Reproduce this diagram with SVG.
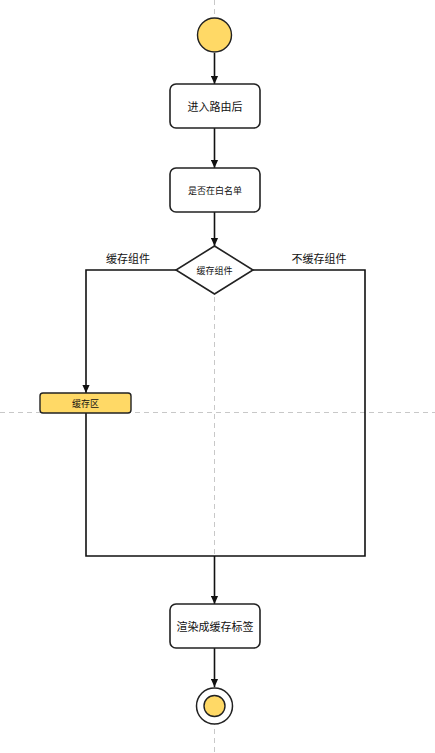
<svg xmlns="http://www.w3.org/2000/svg" width="435" height="753" viewBox="0 0 435 753">
<defs>
<marker id="arr" viewBox="0 0 10 10" refX="10" refY="5" markerWidth="8" markerHeight="8" markerUnits="userSpaceOnUse" orient="auto">
<path d="M0,0.5 L10,5 L0,9.5 Z" fill="#111"/>
</marker>
<style>
.guide{stroke:#c8c8c8;stroke-width:1;stroke-dasharray:5,4;fill:none}
.box{fill:#fff;stroke:#222;stroke-width:1.6}
.yel{fill:#FFD966;stroke:#222;stroke-width:1.4}
.ln{stroke:#111;stroke-width:1.6;fill:none}
.t{font-family:"Noto Sans CJK SC","Liberation Sans",sans-serif;fill:#111;text-anchor:middle;dominant-baseline:central}
</style>
</defs>
<rect width="435" height="753" fill="#fff"/>
<line class="guide" x1="214.5" y1="0" x2="214.5" y2="753"/>
<line class="guide" x1="0" y1="412.5" x2="435" y2="412.5"/>
<g id="connectors">
<line class="ln" x1="214.5" y1="53" x2="214.5" y2="84" marker-end="url(#arr)"/>
<line class="ln" x1="214.5" y1="128" x2="214.5" y2="168" marker-end="url(#arr)"/>
<line class="ln" x1="214.5" y1="212" x2="214.5" y2="246" marker-end="url(#arr)"/>
<polyline class="ln" points="176,270 86,270 86,393" marker-end="url(#arr)"/>
<polyline class="ln" points="253,270 365,270 365,556 86,556 86,413"/>
<line class="ln" x1="214.5" y1="556" x2="214.5" y2="604" marker-end="url(#arr)"/>
<line class="ln" x1="214.5" y1="648" x2="214.5" y2="687" marker-end="url(#arr)"/>
<text class="t" x="128" y="258" font-size="11">缓存组件</text>
<text class="t" x="319" y="258" font-size="11">不缓存组件</text>
</g>
<g id="start"><circle class="yel" cx="214.5" cy="35" r="17"/></g>
<g id="n1"><rect class="box" x="170" y="84" width="90" height="44" rx="6"/><text class="t" x="215" y="106" font-size="11">进入路由后</text></g>
<g id="n2"><rect class="box" x="170" y="168" width="90" height="44" rx="6"/><text class="t" x="215" y="190" font-size="9">是否在白名单</text></g>
<g id="decision"><polygon class="box" points="214.5,246 253,270 214.5,294 176,270"/><text class="t" x="214.5" y="270" font-size="9">缓存组件</text></g>
<g id="cache"><rect class="yel" x="40" y="393" width="91" height="20" rx="3"/><text class="t" x="85.5" y="403" font-size="9">缓存区</text></g>
<g id="n3"><rect class="box" x="170" y="604" width="90" height="44" rx="6"/><text class="t" x="215" y="626" font-size="11">渲染成缓存标签</text></g>
<g id="end"><circle cx="214.5" cy="706" r="18" fill="#fff" stroke="#222" stroke-width="1.5"/><circle class="yel" cx="214.5" cy="706" r="10.5"/></g>
</svg>
